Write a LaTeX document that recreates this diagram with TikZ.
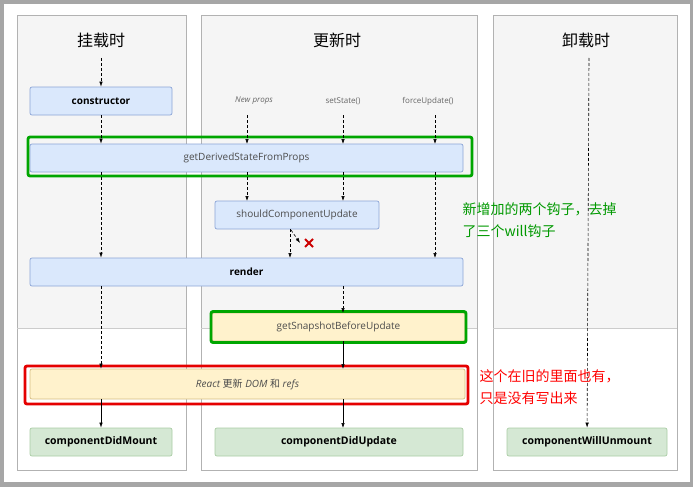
\documentclass[tikz,border=0pt]{standalone}
\usepackage{fontspec}
\setmainfont{Open Sans}
\newfontfamily\cjk{Noto Sans CJK SC}
\usetikzlibrary{arrows.meta}
\definecolor{bfill}{RGB}{218,232,252}
\definecolor{bdraw}{RGB}{140,165,215}
\definecolor{gfill}{RGB}{213,232,212}
\definecolor{gdraw}{RGB}{170,205,165}
\definecolor{yfill}{RGB}{255,242,204}
\definecolor{ydraw}{RGB}{215,190,130}
\begin{document}
\begin{tikzpicture}[x=1pt,y=-1pt,
 blue/.style={draw=bdraw,fill=bfill,rounded corners=2pt,line width=0.7pt,font=\fontsize{10}{11}\selectfont,text=black!70},
 gr/.style={draw=gdraw,fill=gfill,rounded corners=2pt,line width=0.7pt,font=\fontsize{10.5}{11}\selectfont\bfseries},
 yel/.style={draw=ydraw,fill=yfill,rounded corners=2pt,line width=0.7pt,font=\fontsize{10}{11}\selectfont,text=black!70},
 hl/.style={draw=green!65!black,line width=2.8pt,rounded corners=2pt},
 dsh/.style={densely dashed,-{Latex[length=5pt,width=3.5pt]},line width=0.6pt},
 sol/.style={-{Latex[length=5pt,width=3.5pt]},line width=0.6pt},
 ttl/.style={font=\cjk\fontsize{16}{18}\selectfont},
 sm/.style={font=\fontsize{8}{9}\selectfont,text=black!60}]
\useasboundingbox (0,0) rectangle (693,487);
\fill[black!35] (0,0) rectangle (693,487);
\fill[white] (4,4) rectangle (690,482);
\foreach \a/\b in {17/186,201/477,493/677}{
 \fill[black!4] (\a,15) rectangle (\b,328);
 \draw[black!30,line width=0.8pt] (\a,15) rectangle (\b,470);
 \draw[black!20,line width=0.8pt] (\a,328) -- (\b,328);}
\node[ttl] (t1) at (101,40) {挂载时};
\node[ttl] (t2) at (337,40) {更新时};
\node[ttl] (t3) at (586,40) {卸载时};
\node[blue,minimum width=142,minimum height=28,font=\fontsize{10}{11}\selectfont\bfseries,text=black] (ctor) at (101,101) {constructor};
\node[blue,minimum width=433,minimum height=28] (gd) at (246.5,158) {getDerivedStateFromProps};
\node[blue,minimum width=164,minimum height=28] (scu) at (297,215) {shouldComponentUpdate};
\node[blue,minimum width=433,minimum height=28,font=\fontsize{10}{11}\selectfont\bfseries,text=black] (rd) at (246.5,272) {render};
\node[yel,minimum width=253,minimum height=28] (gs) at (338.5,327) {getSnapshotBeforeUpdate};
\node[yel,minimum width=435,minimum height=30,font=\fontsize{10}{11}\selectfont\itshape] (rc) at (247.5,384) {React {\cjk 更新} DOM {\cjk 和} refs};
\node[gr,minimum width=142,minimum height=28] (dm) at (101,442) {componentDidMount};
\node[gr,minimum width=248,minimum height=28] (du) at (339,442) {componentDidUpdate};
\node[gr,minimum width=160,minimum height=28] (wu) at (587,442) {componentWillUnmount};
\node[sm,font=\fontsize{8}{9}\selectfont\itshape] (np) at (254,101) {New props};
\node[sm] (ss) at (343,101) {setState()};
\node[sm] (fu) at (428,101) {forceUpdate()};
\node[hl,minimum width=444,minimum height=39] (hg1) at (250,156.5) {};
\node[hl,minimum width=255,minimum height=31] (hg2) at (338.5,327) {};
\node[draw=red!90!black,line width=2.8pt,rounded corners=2pt,minimum width=443,minimum height=38] (hr) at (246.5,385) {};
\coordinate (c0) at (101,58);
\coordinate (c1) at (589,58);
\coordinate (x) at (300,243);
\draw[dsh] (c0) -- (ctor);
\draw[dsh] (ctor) -- (gd.north -| ctor);
\draw[dsh] (gd.south -| ctor) -- (rd.north -| ctor);
\draw[dsh] (rd.south -| ctor) -- (rc.north -| ctor);
\draw[sol] (rc.south -| ctor) -- (dm);
\draw[dsh] (247,115) -- (247,144);
\draw[dsh] (343,115) -- (343,144);
\draw[dsh] (435,115) -- (435,144);
\draw[dsh] (247,172) -- (247,201);
\draw[dsh] (343,172) -- (343,201);
\draw[dsh] (435,172) -- (435,258);
\draw[dsh] (290,229) -- (290,258);
\draw[dsh] (291,230) -- (x);
\draw[red!80!black,line width=2pt] (305,239) -- (313,247) (305,247) -- (313,239);
\draw[dsh] (343,286) -- (343,313);
\draw[sol] (343,341) -- (343,369);
\draw[sol] (343,399) -- (343,428);
\draw[dsh] (c1) -- (wu);
\node[font=\cjk\fontsize{14}{22}\selectfont,text=green!60!black,align=left,anchor=north west] (n1) at (459,199) {新增加的两个钩子，去掉\\了三个will钩子};
\node[font=\cjk\fontsize{14}{22}\selectfont,text=red,align=left,anchor=north west] (n2) at (476,366) {这个在旧的里面也有，\\只是没有写出来};
\end{tikzpicture}
\end{document}
